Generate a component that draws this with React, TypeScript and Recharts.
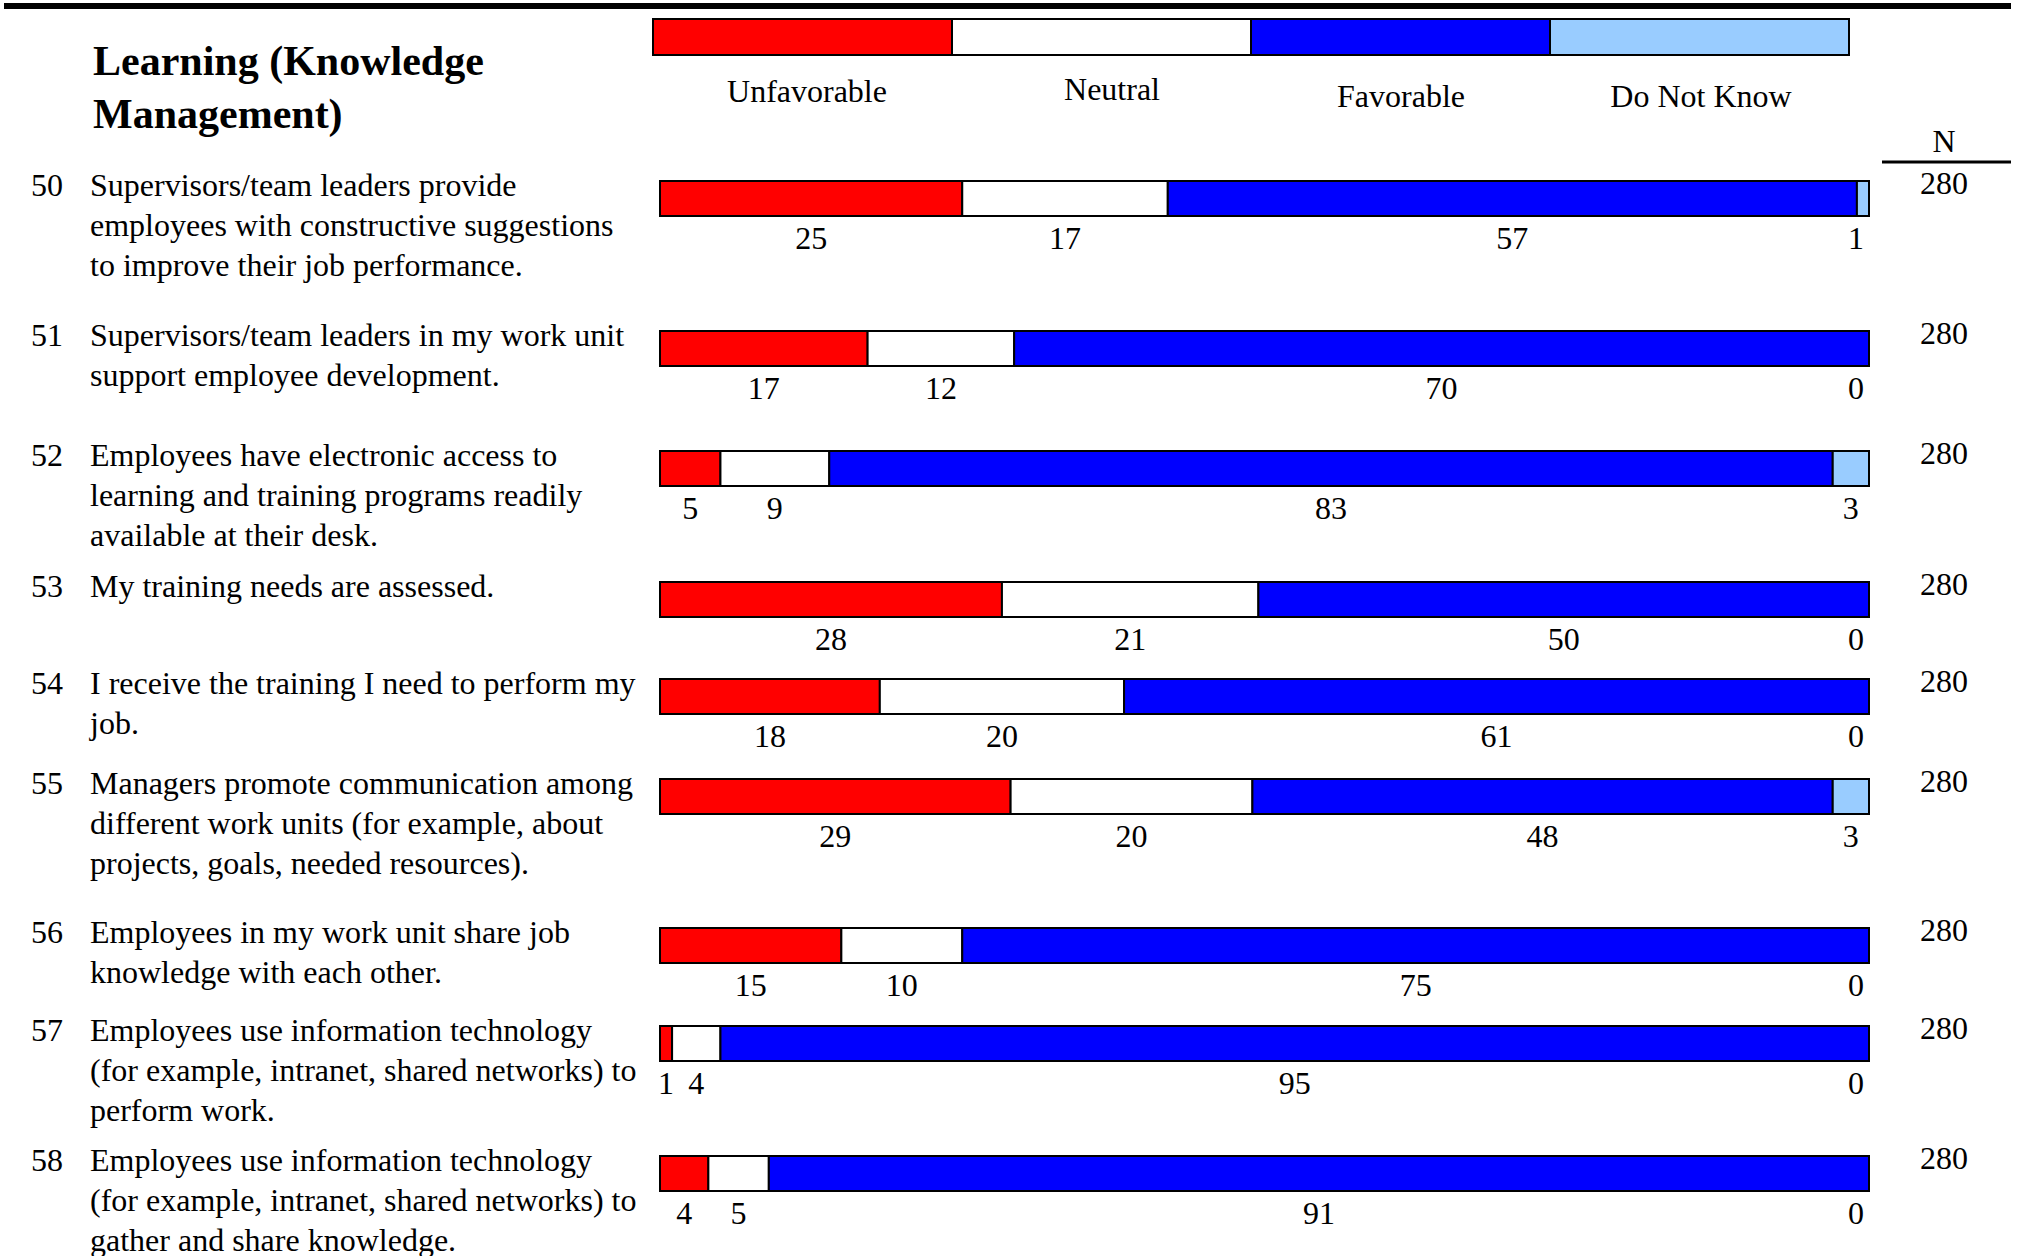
import React from 'react';
import { BarChart, Bar, XAxis, YAxis } from 'recharts';

// ---------- data ----------
const title = ['Learning (Knowledge', 'Management)'];
const categoryLabels = ['Unfavorable', 'Neutral', 'Favorable', 'Do Not Know'];
const itemNumbers = [50, 51, 52, 53, 54, 55, 56, 57, 58];
const questions = [
  'Supervisors/team leaders provide\nemployees with constructive suggestions\nto improve their job performance.',
  'Supervisors/team leaders in my work unit\nsupport employee development.',
  'Employees have electronic access to\nlearning and training programs readily\navailable at their desk.',
  'My training needs are assessed.',
  'I receive the training I need to perform my\njob.',
  'Managers promote communication among\ndifferent work units (for example, about\nprojects, goals, needed resources).',
  'Employees in my work unit share job\nknowledge with each other.',
  'Employees use information technology\n(for example, intranet, shared networks) to\nperform work.',
  'Employees use information technology\n(for example, intranet, shared networks) to\ngather and share knowledge.',
];
const unfavorable = [25, 17, 5, 28, 18, 29, 15, 1, 4];
const neutral = [17, 12, 9, 21, 20, 20, 10, 4, 5];
const favorable = [57, 70, 83, 50, 61, 48, 75, 95, 91];
const doNotKnow = [1, 0, 3, 0, 0, 3, 0, 0, 0];
const respondents = [280, 280, 280, 280, 280, 280, 280, 280, 280];

// ---------- layout / style ----------
const FONT = "'Liberation Serif', 'Times New Roman', serif";
const COLORS = ['#FF0000', '#FFFFFF', '#0000FF', '#99CCFF'];
const KEYS = ['unf', 'neu', 'fav', 'dnk'];
const BAR_TOPS = [179, 329, 449, 580, 677, 777, 926, 1024, 1154];
const BAR_LEFT = 660;
const BAR_RIGHT = 1869;
const BAR_H = 39;
const PAD = 10;
const LABEL_SPACE = 55;
const LAST_INSET = 13;

// label for segment j; the last non-zero segment also writes the labels of
// following zero-valued segments at its right end
function makeLabel(vals: number[], j: number) {
  const trailingZeros: number[] = [];
  if (vals[j] > 0) {
    for (let k = j + 1; k < vals.length && vals[k] === 0; k++) trailingZeros.push(k);
  }
  const isLast = j === vals.length - 1;
  return (props: any) => {
    const vb = props.viewBox || {};
    const x = Number(props.x ?? vb.x);
    const y = Number(props.y ?? vb.y);
    const w = Number(props.width ?? vb.width ?? 0);
    const h = Number(props.height ?? vb.height ?? 0);
    if (!isFinite(x) || !isFinite(y) || vals[j] === 0) return null;
    let cx = x + w / 2;
    if (isLast) cx = Math.min(cx, x + w - LAST_INSET);
    const ly = y + h + 33;
    return (
      <g>
        <text x={cx} y={ly} textAnchor="middle" fontFamily={FONT} fontSize={32} fill="#000">
          {vals[j]}
        </text>
        {trailingZeros.map((k) => (
          <text key={k} x={x + w - LAST_INSET} y={ly} textAnchor="middle" fontFamily={FONT} fontSize={32} fill="#000">
            {vals[k]}
          </text>
        ))}
      </g>
    );
  };
}

function RowChart({ i }: { i: number }) {
  const vals = [unfavorable[i], neutral[i], favorable[i], doNotKnow[i]];
  const total = vals.reduce((a, b) => a + b, 0);
  const data = [{ name: String(itemNumbers[i]), unf: vals[0], neu: vals[1], fav: vals[2], dnk: vals[3] }];
  const width = BAR_RIGHT - BAR_LEFT + 2 * PAD;
  const height = PAD + BAR_H + LABEL_SPACE;
  return (
    <div style={{ position: 'absolute', left: BAR_LEFT - PAD, top: BAR_TOPS[i] - PAD, width, height }}>
      <BarChart
        width={width}
        height={height}
        data={data}
        layout="vertical"
        margin={{ top: PAD, right: PAD, bottom: LABEL_SPACE, left: PAD }}
        barCategoryGap={0}
        barSize={BAR_H}
      >
        <XAxis type="number" hide domain={[0, total]} />
        <YAxis type="category" dataKey="name" hide />
        {KEYS.map((k, j) => (
          <Bar
            key={k}
            dataKey={k}
            stackId="s"
            fill={COLORS[j]}
            stroke="#000"
            strokeWidth={2}
            isAnimationActive={false}
            label={makeLabel(vals, j)}
          />
        ))}
      </BarChart>
    </div>
  );
}

export default function App() {
  const legendLeft = 653;
  const legendSeg = 299;
  const legendCenters = [807, 1112, 1401, 1701];
  const legendBaselines = [102, 100, 107, 107];
  return (
    <div style={{ position: 'absolute', left: 0, top: 0, width: 2021, height: 1256, background: '#fff', overflow: 'hidden' }}>
      <svg width={2021} height={1256} style={{ position: 'absolute', left: 0, top: 0 }} fontFamily={FONT}>
        <rect x={4} y={3} width={2007} height={6} fill="#000" />
        {title.map((t, k) => (
          <text key={k} x={93} y={75 + k * 53} fontSize={42} fontWeight="bold" fill="#000">{t}</text>
        ))}
        {categoryLabels.map((c, j) => (
          <rect key={c} x={legendLeft + j * legendSeg} y={19} width={legendSeg} height={36} fill={COLORS[j]} stroke="#000" strokeWidth={2} />
        ))}
        {categoryLabels.map((c, j) => (
          <text key={c} x={legendCenters[j]} y={legendBaselines[j]} textAnchor="middle" fontSize={32} fill="#000">{c}</text>
        ))}
        <text x={1944} y={152} textAnchor="middle" fontSize={32} fill="#000">N</text>
        <line x1={1882} x2={2011} y1={162} y2={162} stroke="#000" strokeWidth={3} />
        {itemNumbers.map((n, i) => {
          const base = BAR_TOPS[i] + 17;
          const lines = questions[i].split('\n');
          return (
            <g key={n}>
              <text x={31} y={base} fontSize={32} fill="#000">{n}</text>
              {lines.map((ln, k) => (
                <text key={k} x={90} y={base + k * 40} fontSize={32} fill="#000">{ln}</text>
              ))}
              <text x={1944} y={base - 2} textAnchor="middle" fontSize={32} fill="#000">{respondents[i]}</text>
            </g>
          );
        })}
      </svg>
      {itemNumbers.map((n, i) => (
        <RowChart key={n} i={i} />
      ))}
    </div>
  );
}
